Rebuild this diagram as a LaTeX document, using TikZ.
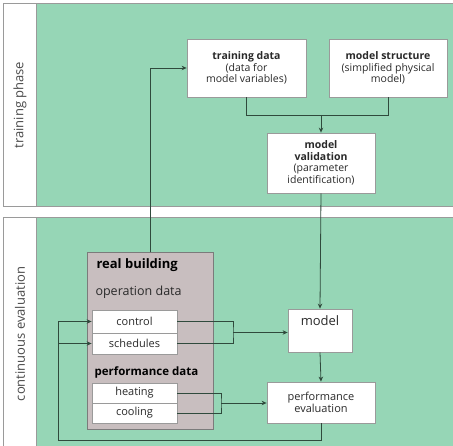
\documentclass[tikz,border=0pt]{standalone}
\usepackage{fontspec}
\setmainfont{Open Sans}
\usetikzlibrary{arrows.meta}
\definecolor{bg}{HTML}{96D6B6}
\definecolor{ln}{HTML}{2F4A3C}
\definecolor{fr}{HTML}{9A9A9A}
\definecolor{bld}{HTML}{C8BEBF}
\definecolor{tx}{HTML}{2A2A2A}
\begin{document}
\begin{tikzpicture}[x=1pt,y=-1pt,
  box/.style={draw=fr, fill=white, line width=0.8pt, align=center, inner sep=1pt, text=tx, font=\fontsize{10.5}{11.5}\selectfont},
  sbox/.style={box, minimum width=85pt, font=\fontsize{11}{12}\selectfont},
  conn/.style={draw=ln, line width=0.8pt},
  arr/.style={conn, -{Stealth[length=5pt,width=4.5pt]}},
  side/.style={rotate=90, text=tx!85, font=\fontsize{13}{14}\selectfont}]
\useasboundingbox (0,0) rectangle (453,446);
\fill[white] (0,0) rectangle (453,446);
% panels
\draw[fr, fill=white, line width=1pt] (3.5,4) rectangle (460,207);
\fill[bg] (36,4.5) rectangle (453,206.5);
\draw[fr, line width=0.8pt] (36,4.5) -- (36,206.5);
\draw[fr, fill=white, line width=1pt] (3.5,218) rectangle (460,452);
\fill[bg] (36,218.5) rectangle (453,446);
\draw[fr, line width=0.8pt] (36,218.5) -- (36,446);
\node[side] (lt) at (20,105) {training phase};
\node[side] (lc) at (20,334) {continuous evaluation};
% top boxes
\node[box, minimum width=119pt, minimum height=58pt] (td) at (246.5,68)
  {\textbf{training data}\\(data for\\model variables)};
\node[box, minimum width=118pt, minimum height=58pt] (ms) at (388,68)
  {\textbf{model structure}\\(simplified physical\\model)};
\node[box, minimum width=108pt, minimum height=60pt] (mv) at (321,163)
  {\textbf{model}\\\textbf{validation}\\(parameter\\identification)};
% real building
\node[draw=fr!80!black, fill=bld, line width=1pt, minimum width=126pt, minimum height=177pt] (rb) at (150,341.5) {};
\node[anchor=west, text=black, font=\fontsize{13}{14}\selectfont\bfseries] (rbt) at (93,265) {real building};
\node[anchor=west, text=tx, font=\fontsize{12.5}{14}\selectfont] (od) at (92,292) {operation data};
\node[anchor=west, text=black, font=\fontsize{11.5}{13}\selectfont\bfseries] (pd) at (91,372) {performance data};
\node[sbox, minimum height=23pt] (ctrl) at (134.5,321.5) {control};
\node[sbox, minimum height=21pt] (sch) at (134.5,343.5) {schedules};
\node[sbox, minimum height=20pt] (heat) at (134.5,393) {heating};
\node[sbox, minimum height=20pt] (cool) at (134.5,413) {cooling};
% model & perf eval
\node[box, minimum width=64pt, minimum height=43pt,
  label={[anchor=north, yshift=-3pt, text=tx, font=\fontsize{13}{14}\selectfont]north:model}] (model) at (320,330.5) {};
\node[box, minimum width=108pt, minimum height=41pt, font=\fontsize{11}{12}\selectfont] (pe) at (321,402.5)
  {performance\\evaluation};
% connectors
\coordinate (j1) at (321,115);
\draw[conn] (td.south) |- (j1);
\draw[conn] (ms.south) |- (j1);
\draw[arr] (j1) -- (mv.north);
\draw[arr] (mv.south) -- (model.north);
\draw[arr] (rb.north) |- (td.west);
\coordinate (j2) at (233,332.5);
\draw[conn] (ctrl.east) -| (j2) |- (sch.east);
\draw[arr] (j2) -- (model.west |- j2);
\coordinate (j3) at (221,403);
\draw[conn] (heat.east) -| (j3) |- (cool.east);
\draw[arr] (j3) -- (pe.west |- j3);
\draw[arr] (model.south) -- (pe.north);
\coordinate (fb) at (58,440);
\draw[arr] (pe.south) |- (fb) |- (ctrl.west);
\draw[arr] (fb) |- (sch.west);
\end{tikzpicture}
\end{document}
